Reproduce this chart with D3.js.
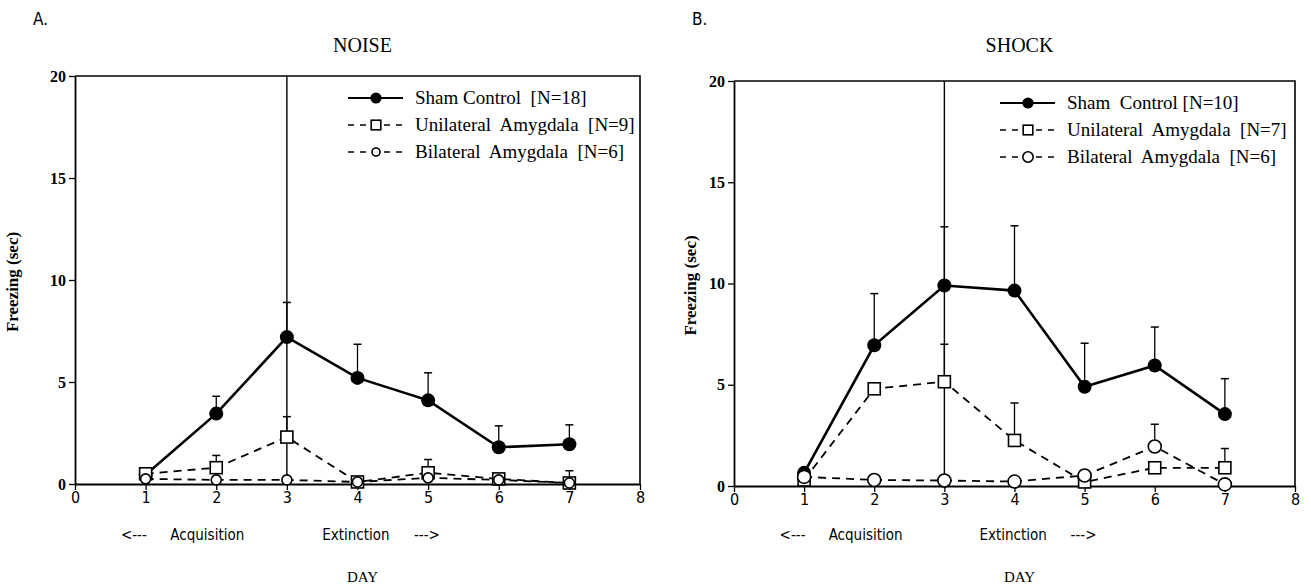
<!DOCTYPE html>
<html>
<head>
<meta charset="utf-8">
<script src="https://cdn.jsdelivr.net/npm/d3@7"></script>
<style>
  body { margin: 0; background: #fff; }
  svg { display: block; }
  .serif { font-family: "Liberation Serif", "Times New Roman", serif; }
  .narrow { font-family: "Liberation Sans Narrow", "DejaVu Sans Condensed", "Arial Narrow", sans-serif; font-stretch: condensed; }
</style>
</head>
<body>
<svg width="1311" height="588"></svg>
<script>
// days 1..7 on the x axis
var days = [1, 2, 3, 4, 5, 6, 7];
var xTicks = [0, 1, 2, 3, 4, 5, 6, 7, 8];
var yTicks = [0, 5, 10, 15, 20];

// A. NOISE  (mean freezing, sec, and the upper error bar length)
var noiseSham    = [0.45, 3.45, 7.2, 5.2, 4.1, 1.8, 1.95];
var noiseShamErr = [0, 0.85, 1.7, 1.65, 1.35, 1.05, 0.95];
var noiseUni     = [0.5, 0.8, 2.3, 0.1, 0.55, 0.25, 0.05];
var noiseUniErr  = [0, 0.6, 1.0, 0, 0.65, 0.1, 0.6];
var noiseBi      = [0.25, 0.2, 0.2, 0.1, 0.3, 0.2, 0.05];
var noiseBiErr   = [0, 0, 0, 0, 0, 0, 0];

// B. SHOCK
var shockSham    = [0.65, 6.95, 9.9, 9.65, 4.9, 5.95, 3.55];
var shockShamErr = [0, 2.55, 2.9, 3.2, 2.15, 1.9, 1.75];
var shockUni     = [0.3, 4.8, 5.15, 2.25, 0.2, 0.9, 0.9];
var shockUniErr  = [0, 0, 1.85, 1.85, 0, 0, 0.95];
var shockBi      = [0.45, 0.3, 0.27, 0.22, 0.52, 1.95, 0.08];
var shockBiErr   = [0, 0, 0, 0, 0, 1.1, 0];

var noiseLabels = ["Sham Control  [N=18]", "Unilateral  Amygdala  [N=9]", "Bilateral  Amygdala  [N=6]"];
var shockLabels = ["Sham  Control [N=10]", "Unilateral  Amygdala  [N=7]", "Bilateral  Amygdala  [N=6]"];

var svg = d3.select("svg");

function drawPanel(p) {
  var x = d3.scaleLinear().domain([0, 8]).range([p.left, p.right]);
  var y = d3.scaleLinear().domain([0, 20]).range([p.bottom, p.top]);
  var g = svg.append("g");

  // panel letter + title
  g.append("text").attr("x", p.left - 42).attr("y", 25)
    .attr("class", "narrow").style("font-size", "17px").text(p.letter);
  g.append("text").attr("x", (p.left + p.right) / 2 + 5).attr("y", 52)
    .attr("class", "serif").attr("text-anchor", "middle").style("font-size", "20px").text(p.title);

  // frame: top and right
  g.append("path")
    .attr("d", "M" + p.left + "," + p.top + "H" + p.right + "V" + p.bottom)
    .attr("fill", "none").attr("stroke", "#000").attr("stroke-width", 1.6);

  // axes
  var ya = g.append("g").attr("transform", "translate(" + p.left + ",0)")
    .call(d3.axisLeft(y).tickValues(yTicks).tickSize(6).tickSizeOuter(0).tickPadding(3));
  ya.selectAll("text").attr("class", "serif").style("font-size", "16px").style("font-weight", "bold").attr("fill", "#000");
  var xa = g.append("g").attr("transform", "translate(0," + p.bottom + ")")
    .call(d3.axisBottom(x).tickValues(xTicks).tickSize(6).tickSizeOuter(0).tickPadding(2));
  xa.selectAll("text").attr("class", "narrow").style("font-size", "16px").attr("fill", "#000");
  g.selectAll(".domain").attr("stroke-width", 1.8);
  g.selectAll(".tick line").attr("stroke-width", 1.3);

  // day 3 divider
  g.append("line").attr("x1", x(3)).attr("x2", x(3)).attr("y1", p.top).attr("y2", p.bottom)
    .attr("stroke", "#000").attr("stroke-width", 1.4);

  // y label
  g.append("text").attr("class", "serif").style("font-size", "17px").style("font-weight", "bold")
    .attr("text-anchor", "middle")
    .attr("transform", "translate(" + (p.left - p.ylabOff) + "," + ((p.top + p.bottom) / 2 + 2) + ") rotate(-90)")
    .text("Freezing (sec)");

  // bottom labels
  var bl = g.append("g").attr("class", "narrow").style("font-size", "15px");
  bl.append("text").attr("x", x(0.65)).attr("y", 540).text("<---");
  bl.append("text").attr("x", x(1.35)).attr("y", 540).text("Acquisition");
  bl.append("text").attr("x", x(3.5)).attr("y", 540).text("Extinction");
  bl.append("text").attr("x", x(4.8)).attr("y", 540).text("--->");
  g.append("text").attr("class", "serif").style("font-size", "15px")
    .attr("x", (p.left + p.right) / 2 + 5).attr("y", 582).attr("text-anchor", "middle").text("DAY");

  var line = d3.line().x(function(d) { return x(d.day); }).y(function(d) { return y(d.v); });

  p.series.forEach(function(s) {
    var pts = days.map(function(d, i) { return { day: d, v: s.values[i], e: s.err[i] }; });
    // error bars (upper only, T cap)
    var eb = g.selectAll(null).data(pts.filter(function(d) { return d.e > 0; })).enter().append("g");
    eb.append("line").attr("x1", function(d) { return x(d.day); }).attr("x2", function(d) { return x(d.day); })
      .attr("y1", function(d) { return y(d.v); }).attr("y2", function(d) { return y(d.v + d.e); })
      .attr("stroke", "#000").attr("stroke-width", 1.3);
    eb.append("line").attr("x1", function(d) { return x(d.day) - 4; }).attr("x2", function(d) { return x(d.day) + 4; })
      .attr("y1", function(d) { return y(d.v + d.e); }).attr("y2", function(d) { return y(d.v + d.e); })
      .attr("stroke", "#000").attr("stroke-width", 1.5);

    g.append("path").datum(pts).attr("d", line).attr("fill", "none").attr("stroke", "#000")
      .attr("stroke-width", s.dash ? 1.8 : 2.6).attr("stroke-dasharray", s.dash ? "8,6" : null);

    drawMarkers(g, pts.map(function(d) { return [x(d.day), y(d.v)]; }), s);
  });

  // legend
  p.series.forEach(function(s, i) {
    var ly = p.legY + i * 27;
    g.append("line").attr("x1", p.legX).attr("x2", p.legX + 55).attr("y1", ly).attr("y2", ly)
      .attr("stroke", "#000").attr("stroke-width", s.dash ? 1.5 : 2.2)
      .attr("stroke-dasharray", s.dash ? "6,6" : null);
    drawMarkers(g, [[p.legX + 28, ly]], s, 0.8);
    g.append("text").attr("class", "serif").style("font-size", "19px").style("white-space", "pre")
      .attr("x", p.legX + 67).attr("y", ly + 6).text(s.label);
  });
}

function drawMarkers(g, coords, s, k) {
  k = k || 1;
  if (s.shape === "dot") {
    g.selectAll(null).data(coords).enter().append("circle")
      .attr("cx", function(d) { return d[0]; }).attr("cy", function(d) { return d[1]; })
      .attr("r", 7 * k).attr("fill", "#000");
  } else if (s.shape === "square") {
    var h = 6 * k;
    g.selectAll(null).data(coords).enter().append("rect")
      .attr("x", function(d) { return d[0] - h; }).attr("y", function(d) { return d[1] - h; })
      .attr("width", 2 * h).attr("height", 2 * h)
      .attr("fill", "#fff").attr("stroke", "#000").attr("stroke-width", 1.6);
  } else {
    g.selectAll(null).data(coords).enter().append("circle")
      .attr("cx", function(d) { return d[0]; }).attr("cy", function(d) { return d[1]; })
      .attr("r", s.r * k).attr("fill", "#fff").attr("stroke", "#000").attr("stroke-width", 1.6);
  }
}

drawPanel({
  letter: "A.", title: "NOISE", left: 75, right: 640, top: 76, bottom: 484,
  legX: 348, legY: 98, ylabOff: 57,
  series: [
    { values: noiseSham, err: noiseShamErr, shape: "dot", dash: false, label: noiseLabels[0] },
    { values: noiseUni, err: noiseUniErr, shape: "square", dash: true, label: noiseLabels[1] },
    { values: noiseBi, err: noiseBiErr, shape: "circle", r: 5, dash: true, label: noiseLabels[2] }
  ]
});

drawPanel({
  letter: "B.", title: "SHOCK", left: 734, right: 1295, top: 81, bottom: 486,
  legX: 1000, legY: 103, ylabOff: 38,
  series: [
    { values: shockSham, err: shockShamErr, shape: "dot", dash: false, label: shockLabels[0] },
    { values: shockUni, err: shockUniErr, shape: "square", dash: true, label: shockLabels[1] },
    { values: shockBi, err: shockBiErr, shape: "circle", r: 6.5, dash: true, label: shockLabels[2] }
  ]
});
</script>
</body>
</html>
